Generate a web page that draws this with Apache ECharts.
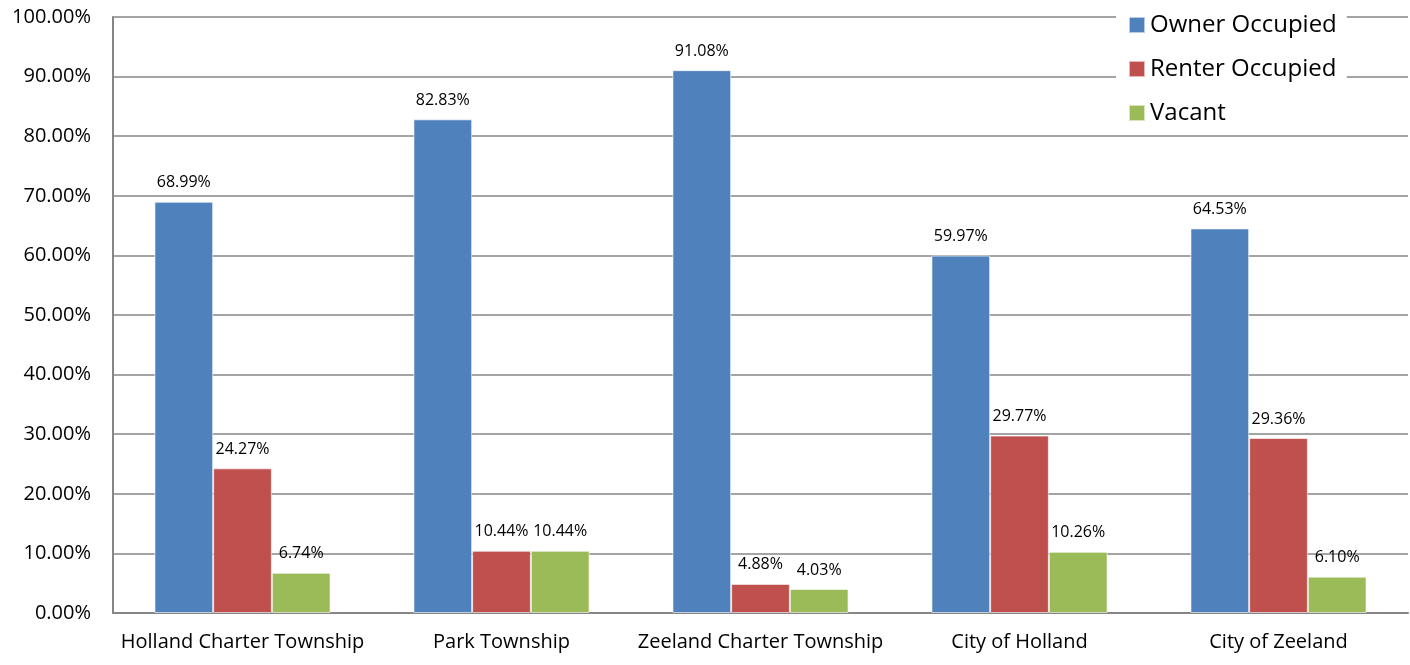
<!DOCTYPE html>
<html>
<head>
<meta charset="utf-8">
<script src="https://cdn.jsdelivr.net/npm/echarts@6/dist/echarts.min.js"></script>
<style>
  html, body { margin: 0; padding: 0; background: #fff; }
  #chart { width: 1410px; height: 665px; }
</style>
</head>
<body>
<div id="chart"></div>
<script>
const categories = ['Holland Charter Township', 'Park Township', 'Zeeland Charter Township', 'City of Holland', 'City of Zeeland']
const ownerOccupied = [68.99, 82.83, 91.08, 59.97, 64.53]
const renterOccupied = [24.27, 10.44, 4.88, 29.77, 29.36]
const vacant = [6.74, 10.44, 4.03, 10.26, 6.10]
const seriesNames = ['Owner Occupied', 'Renter Occupied', 'Vacant']
const colors = ['#4f81bd', '#c0504d', '#9bbb59']

const font = 'Open Sans, Noto Sans, sans-serif'

function makeSeries(name, data) {
  return {
    name: name,
    type: 'bar',
    data: data,
    barGap: '0%',
    barCategoryGap: '32%',
    itemStyle: { borderColor: 'rgba(255,255,255,0.6)', borderWidth: 1 },
    label: {
      show: true,
      position: 'top',
      distance: 11,
      color: '#000',
      fontSize: 16,
      fontFamily: font,
      formatter: p => p.value.toFixed(2) + '%'
    }
  }
}

const chart = echarts.init(document.getElementById('chart'))
chart.setOption({
  animation: false,
  color: colors,
  grid: { left: 113, right: 2, top: 17, bottom: 52, containLabel: false },
  legend: {
    orient: 'vertical',
    left: 1116,
    top: 0,
    padding: [13, 10, 10, 12],
    backgroundColor: '#fff',
    itemWidth: 16,
    itemHeight: 16,
    itemGap: 20,
    icon: 'rect',
    textStyle: { fontSize: 24, color: '#000', fontFamily: font },
    data: seriesNames
  },
  xAxis: {
    type: 'category',
    data: categories,
    axisLine: { lineStyle: { color: '#868686', width: 2 } },
    axisTick: { show: false },
    axisLabel: { color: '#000', fontSize: 20, fontFamily: font, margin: 19, interval: 0 }
  },
  yAxis: {
    type: 'value',
    min: 0,
    max: 100,
    interval: 10,
    axisLine: { show: true, lineStyle: { color: '#868686', width: 2 } },
    axisTick: { show: false },
    splitLine: { lineStyle: { color: '#868686', width: 1.5 } },
    axisLabel: {
      color: '#000',
      fontSize: 20,
      fontFamily: font,
      margin: 22,
      formatter: v => v.toFixed(2) + '%'
    }
  },
  series: [
    makeSeries(seriesNames[0], ownerOccupied),
    makeSeries(seriesNames[1], renterOccupied),
    makeSeries(seriesNames[2], vacant)
  ]
})
</script>
</body>
</html>
